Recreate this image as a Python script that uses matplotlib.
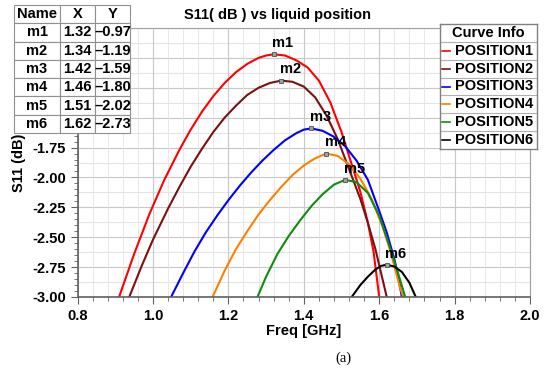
import numpy as np
import matplotlib
matplotlib.use("Agg")
import matplotlib.pyplot as plt
from matplotlib.ticker import MultipleLocator

# curve samples (freq in GHz, S11 in dB)
f1 = [0.91, 0.95, 0.99, 1.03, 1.07, 1.10, 1.13, 1.16, 1.19, 1.22, 1.25, 1.28, 1.30, 1.32,
      1.35, 1.38, 1.41, 1.44, 1.47, 1.50, 1.53, 1.55, 1.57, 1.585, 1.60]
s1 = [-3.00, -2.64, -2.31, -2.02, -1.77, -1.60, -1.45, -1.32, -1.21, -1.12, -1.05, -1.00, -0.98, -0.97,
      -0.98, -1.02, -1.08, -1.19, -1.37, -1.62, -1.92, -2.12, -2.38, -2.62, -3.00]
f2 = [0.937, 0.97, 1.00, 1.04, 1.07, 1.10, 1.13, 1.16, 1.19, 1.22, 1.25, 1.28, 1.31, 1.34,
      1.37, 1.40, 1.43, 1.46, 1.49, 1.52, 1.55, 1.57, 1.59, 1.605, 1.62]
s2 = [-3.00, -2.74, -2.52, -2.26, -2.08, -1.91, -1.76, -1.62, -1.50, -1.40, -1.31, -1.25, -1.21, -1.19,
      -1.20, -1.24, -1.33, -1.48, -1.68, -1.93, -2.18, -2.38, -2.60, -2.80, -3.00]
f3 = [1.048, 1.08, 1.11, 1.14, 1.17, 1.20, 1.23, 1.26, 1.29, 1.32, 1.35, 1.38, 1.40, 1.42,
      1.45, 1.48, 1.51, 1.54, 1.57, 1.60, 1.62, 1.64, 1.65, 1.66]
s3 = [-3.00, -2.80, -2.62, -2.46, -2.32, -2.19, -2.07, -1.96, -1.86, -1.77, -1.69, -1.63, -1.60, -1.59,
      -1.61, -1.66, -1.74, -1.86, -2.02, -2.28, -2.46, -2.68, -2.82, -3.00]
f4 = [1.158, 1.19, 1.22, 1.25, 1.28, 1.31, 1.34, 1.37, 1.40, 1.43, 1.46,
      1.49, 1.52, 1.55, 1.58, 1.61, 1.63, 1.645, 1.655, 1.664]
s4 = [-3.00, -2.78, -2.60, -2.45, -2.31, -2.19, -2.08, -1.98, -1.90, -1.84, -1.80,
      -1.82, -1.89, -2.01, -2.18, -2.42, -2.62, -2.80, -2.92, -3.00]
f5 = [1.277, 1.30, 1.33, 1.36, 1.39, 1.42, 1.45, 1.48, 1.51, 1.54, 1.57, 1.60, 1.63, 1.65, 1.669]
s5 = [-3.00, -2.83, -2.64, -2.49, -2.36, -2.24, -2.14, -2.06, -2.02, -2.04, -2.13, -2.32, -2.60, -2.80, -3.00]
f6 = [1.527, 1.55, 1.57, 1.59, 1.605, 1.62, 1.64, 1.66, 1.68, 1.697]
s6 = [-3.00, -2.90, -2.83, -2.77, -2.74, -2.73, -2.745, -2.79, -2.88, -3.00]

names = ["m1", "m2", "m3", "m4", "m5", "m6"]
mark_x = [1.32, 1.34, 1.42, 1.46, 1.51, 1.62]
mark_y = [-0.97, -1.19, -1.59, -1.80, -2.02, -2.73]
labels = ["POSITION1", "POSITION2", "POSITION3", "POSITION4", "POSITION5", "POSITION6"]
colors = ["#ff0000", "#7a1010", "#0000ff", "#ff8000", "#108a10", "#000000"]

freqs = [f1, f2, f3, f4, f5, f6]
vals = [s1, s2, s3, s4, s5, s6]

plt.rcParams['font.family'] = ['Liberation Sans', 'DejaVu Sans']
fig = plt.figure(figsize=(5.5, 3.73), dpi=100)
ax = fig.add_axes([77.6/550, 76/373, 452.4/550, 269/373])

for f, s, c in zip(freqs, vals, colors):
    ax.plot(f, s, color=c, lw=1.5)

ax.set_xlim(0.8, 2.0)
ax.set_ylim(-3.0, -0.75)
ax.xaxis.set_major_locator(MultipleLocator(0.2))
ax.xaxis.set_minor_locator(MultipleLocator(0.04))
ax.yaxis.set_major_locator(MultipleLocator(0.25))
ax.yaxis.set_minor_locator(MultipleLocator(0.05))
ax.grid(which='major', axis='x', color='#c8c8c8', lw=0.8)
ax.grid(which='minor', axis='x', color='#e4e4e4', lw=0.6)
for y in np.arange(-3.0, -0.74, 0.125):
    ax.axhline(y, color='#c8c8c8' if abs((y / 0.25) - round(y / 0.25)) < 1e-6 else '#e4e4e4',
               lw=0.8, zorder=0)
ax.set_axisbelow(True)
ax.xaxis.set_major_formatter(plt.FormatStrFormatter('%.1f'))
ax.yaxis.set_major_formatter(plt.FormatStrFormatter('%.2f'))
ax.tick_params(which='major', length=5, color='#606060', labelsize=10.5)
ax.tick_params(which='minor', length=3, color='#606060')
for lab in ax.get_xticklabels() + ax.get_yticklabels():
    lab.set_fontweight('bold')
for side in ['left', 'bottom']:
    ax.spines[side].set_color('#606060')
    ax.spines[side].set_linewidth(1.2)
for side in ['top', 'right']:
    ax.spines[side].set_color('#a0a0a0')
    ax.spines[side].set_linewidth(0.8)

ax.set_xlabel("Freq [GHz]", fontsize=10.5, fontweight='bold', labelpad=1)
ax.set_ylabel("S11 (dB)", fontsize=10.5, fontweight='bold', labelpad=4)
fig.text(277/550, 1 - 15/373, "S11( dB ) vs liquid position", ha='center', va='center',
         fontsize=10.5, fontweight='bold')

# markers
ax.plot(mark_x, mark_y, 's', ms=3, mfc='#a0a0a0', mec='#505050', mew=0.6, ls='none', zorder=5)
for n, x, y in zip(names, mark_x, mark_y):
    ax.annotate(n, (x, y), xytext=(-1, 3), textcoords='offset points', ha='left', va='bottom',
                fontsize=10.5, fontweight='bold')

# marker table
tab_ax = fig.add_axes([14/550, 1 - 133/373, 116/550, 128/373])
tab_ax.axis('off')
rows = [["Name", "X", "Y"]] + [[n, "%.2f" % x, "\u2013%.2f" % abs(y)] for n, x, y in zip(names, mark_x, mark_y)]
tbl = tab_ax.table(cellText=rows, bbox=[0, 0, 1, 1], colWidths=[46, 35, 35], cellLoc='center')
tbl.auto_set_font_size(False)
for (r, c), cell in tbl.get_celld().items():
    cell.set_edgecolor('#909090')
    cell.set_linewidth(0.8)
    cell.get_text().set_fontsize(10.5)
    cell.get_text().set_fontweight('bold')

# curve info box
leg_ax = fig.add_axes([440/550, 1 - 149/373, 97/550, 125/373])
leg_ax.set_xlim(0, 97)
leg_ax.set_ylim(7, 0)
leg_ax.set_xticks([])
leg_ax.set_yticks([])
for sp in leg_ax.spines.values():
    sp.set_color('#808080')
    sp.set_linewidth(1.0)
leg_ax.text(48.5, 0.5, "Curve Info", ha='center', va='center', fontsize=10.5, fontweight='bold')
for i, (lab, c) in enumerate(zip(labels, colors)):
    yc = i + 1.5
    leg_ax.axhline(i + 1, color='#b0b0b0', lw=0.8)
    leg_ax.plot([2, 10], [yc, yc], color=c, lw=1.2)
    leg_ax.text(93, yc, lab, ha='right', va='center', fontsize=10.5, fontweight='bold')

fig.text(343/550, 1 - 358/373, "(a)", ha='center', va='center', fontsize=10.5,
         family=['Liberation Serif', 'DejaVu Serif'])

fig.savefig("out.png", dpi=100)
